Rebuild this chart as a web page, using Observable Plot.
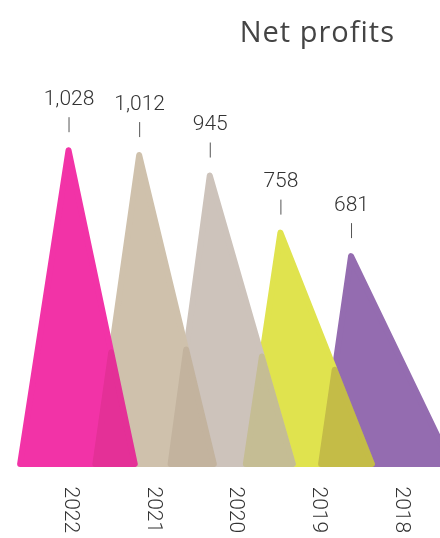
<!DOCTYPE html>
<html>
<head>
<meta charset="utf-8">
<script src="https://cdn.jsdelivr.net/npm/d3@7"></script>
<script src="https://cdn.jsdelivr.net/npm/@observablehq/plot@0.6"></script>
<style>
  html, body { margin: 0; padding: 0; background: #fff; }
  #wrap { position: relative; width: 440px; height: 538px; }
  #title { position: absolute; right: 45px; top: 16px; font-family: "Open Sans", "Noto Sans", sans-serif;
           font-size: 29px; line-height: 29px; color: #444; letter-spacing: 1px; z-index: 2; }
  #wrap svg { position: absolute; left: 0; top: 0; }
</style>
</head>
<body>
<div id="wrap"><div id="title">Net profits</div></div>
<script>
// ---- data ----
const years = ["2022", "2021", "2020", "2019", "2018"];
const profits = [1028, 1012, 945, 758, 681];
const valueLabels = ["1,028", "1,012", "945", "758", "681"];
const colors = ["#f233a7", "#cfc1ac", "#cdc3bb", "#e0e34e", "#946cb0"];

// ---- shape rules (in slot units of the x scale; slot i = year label position) ----
const apexOf = i => -0.036 + 0.855 * i;
const leftOf = i => apexOf(i) - (0.586 - 0.056 * i);
const rightOf = i => apexOf(i) + (0.802 + 0.102 * i);

const peaks = years.map((year, i) => ({
  year, i, value: profits[i], label: valueLabels[i], color: colors[i],
  apex: apexOf(i), left: leftOf(i), right: rightOf(i)
}));

const triangle = p => [{x: p.left, y: 0}, {x: p.apex, y: p.value}, {x: p.right, y: 0}];

function overlap(f, b) {
  if (b.left >= f.right) return null;
  const t = (f.right - b.left) / ((f.right - f.apex) + (f.value / b.value) * (b.apex - b.left));
  const px = f.right - t * (f.right - f.apex), py = t * f.value;
  return [{x: b.left, y: 0}, {x: px, y: py}, {x: f.right, y: 0}];
}

const marks = [];
for (const p of [...peaks].reverse()) {
  marks.push(Plot.areaY(triangle(p), {x: "x", y: "y", fill: p.color, stroke: p.color,
    strokeWidth: 6, strokeLinejoin: "round"}));
}
for (let i = 0; i < peaks.length - 1; i++) {
  const o = overlap(peaks[i], peaks[i + 1]);
  if (o) marks.push(Plot.areaY(o, {x: "x", y: "y", fill: peaks[i + 1].color, stroke: peaks[i + 1].color,
    strokeWidth: 6, strokeLinejoin: "round", opacity: 0.3, mixBlendMode: "multiply"}));
}
marks.push(Plot.ruleX(peaks, {x: "apex", y1: "value", y2: "value", insetTop: -33, insetBottom: 18,
  stroke: "#555", strokeWidth: 1}));
marks.push(Plot.text(peaks, {x: "apex", y: "value", text: "label", dy: -52.5, lineAnchor: "middle",
  fontSize: 21, fontWeight: 300, fontFamily: "Roboto, 'Liberation Sans', sans-serif", fill: "#333"}));
marks.push(Plot.text(peaks, {x: "i", y: () => 0, text: "year", rotate: 90, textAnchor: "start",
  lineAnchor: "middle", dy: 22, fontSize: 21, fontWeight: 300,
  fontFamily: "Roboto, 'Liberation Sans', sans-serif", fill: "#333"}));

const chart = Plot.plot({
  width: 440, height: 538,
  marginTop: 0, marginRight: 0, marginBottom: 74, marginLeft: 0,
  x: {domain: [-71.5 / 82.6, (440 - 71.5) / 82.6], axis: null},
  y: {domain: [0, 1520], axis: null},
  style: {background: "transparent", overflow: "visible"},
  marks
});
document.getElementById("wrap").appendChild(chart);
</script>
</body>
</html>
